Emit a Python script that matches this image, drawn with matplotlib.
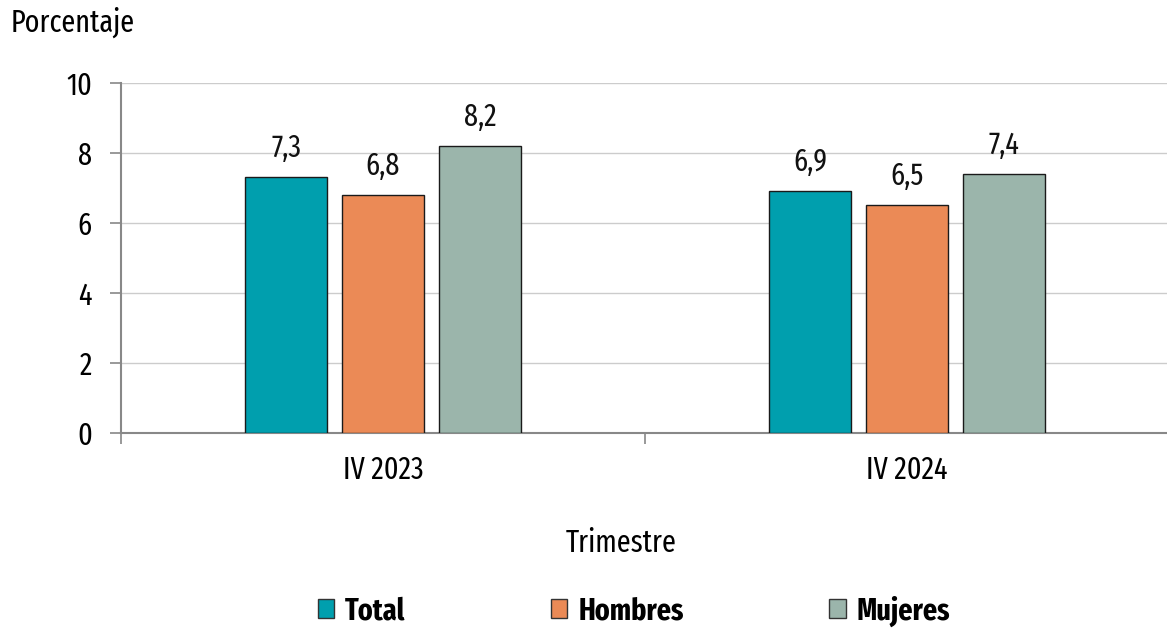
import numpy as np
import matplotlib
matplotlib.use('Agg')
import matplotlib.pyplot as plt
from matplotlib.patches import Patch

# Data
categories = ['IV 2023', 'IV 2024']
series_names = ['Total', 'Hombres', 'Mujeres']
total = [7.3, 6.9]
hombres = [6.8, 6.5]
mujeres = [8.2, 7.4]
colors = ['#009fae', '#eb8a56', '#9bb5ab']

plt.rcParams['font.family'] = ['Fira Sans Extra Condensed', 'Fira Sans Condensed', 'DejaVu Sans']
fs = 22

fig = plt.figure(figsize=(11.67, 6.3), dpi=100)
ax = fig.add_axes([0.1037, 0.3127, 0.898, 0.5556])

x = np.arange(len(categories))
width = 0.157
step = 0.185
values = [total, hombres, mujeres]
for i, (vals, col) in enumerate(zip(values, colors)):
	pos = x + (i - 1) * step
	ax.bar(pos, vals, width, color=col, edgecolor='#1a1a1a', linewidth=1.0, zorder=3)
	for px, v in zip(pos, vals):
		ax.text(px, v + 0.4, '{:.1f}'.format(v).replace('.', ','), ha='center', va='bottom',
			fontsize=fs, color='#111111')

ax.set_xlim(-0.5, 1.5)
ax.set_ylim(0, 10)
ax.set_yticks(range(0, 11, 2))
ax.yaxis.grid(True, color='#cccccc', linewidth=1.0, zorder=0)
ax.set_axisbelow(True)

# category separators as major ticks, labels on minor ticks
ax.set_xticks([-0.5, 0.5, 1.5])
ax.set_xticklabels([])
ax.set_xticks(x, minor=True)
ax.set_xticklabels(categories, minor=True, fontsize=fs)
ax.tick_params(axis='x', which='minor', length=0, pad=16)
ax.tick_params(axis='x', which='major', length=8, color='#888888', width=1.2)
ax.tick_params(axis='y', length=8, color='#888888', width=1.2, labelsize=fs, pad=13)

for s in ['top', 'right']:
	ax.spines[s].set_visible(False)
for s in ['left', 'bottom']:
	ax.spines[s].set_color('#888888')
	ax.spines[s].set_linewidth(1.5)

fig.text(0.009, 0.965, 'Porcentaje', fontsize=fs, ha='left', va='center')
fig.text(0.532, 0.138, 'Trimestre', fontsize=fs, ha='center', va='center')

handles = [Patch(facecolor=c, edgecolor='#333333', linewidth=1.0) for c in colors]
fig.legend(handles, series_names, loc='center', bbox_to_anchor=(0.543, 0.03), ncol=3,
	frameon=False, prop={'weight': 'bold', 'size': fs}, columnspacing=4.75,
	handlelength=0.55, handleheight=0.55, handletextpad=0.35)

fig.savefig('out.png', dpi=100)
